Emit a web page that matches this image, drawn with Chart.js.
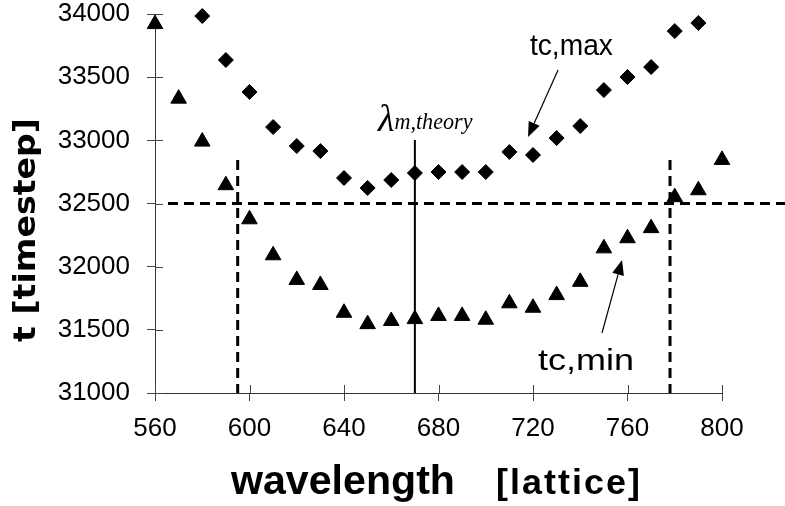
<!DOCTYPE html>
<html>
<head>
<meta charset="utf-8">
<script src="https://cdn.jsdelivr.net/npm/chart.js@4/dist/chart.umd.min.js"></script>
<style>
  html, body { margin: 0; padding: 0; background: #fff; }
  #wrap { width: 785px; height: 506px; }
</style>
</head>
<body>
<div id="wrap"><canvas id="chart"></canvas></div>
<script>
// wavelength [lattice]
const wavelengths = [560, 570, 580, 590, 600, 610, 620, 630, 640, 650, 660, 670, 680,
                     690, 700, 710, 720, 730, 740, 750, 760, 770, 780, 790, 800];
// t_c,max (diamonds)
const tcMax = [null, null, 33984, 33636, 33383, 33105, 32955, 32915, 32702, 32623, 32686, 32741, 32749,
               32749, 32749, 32908, 32884, 33018, 33113, 33398, 33501, 33580, 33865, 33929, null];
// t_c,min (triangles)
const tcMin = [33920, 33330, 32990, 32645, 32375, 32090, 31895, 31855, 31635, 31545, 31570, 31585, 31610,
               31610, 31580, 31710, 31675, 31775, 31880, 32145, 32225, 32305, 32550, 32605, 32845];

const xTicks = [560, 600, 640, 680, 720, 760, 800];
const yTicks = [31000, 31500, 32000, 32500, 33000, 33500, 34000];

const thresholdT = 32500;       // dashed horizontal
const cutoffs = [595, 778];     // dashed verticals
const lambdaTheory = 670;       // solid vertical

const tickFont = { family: '"Liberation Sans", Arial, sans-serif', size: 26 };

function toPoints(values) {
    return wavelengths.map((w, i) => values[i] == null ? null : { x: w, y: values[i] })
                      .filter(p => p !== null);
}

// draw text stretched/squeezed horizontally to a given width
function fitText(ctx, text, x, y, width) {
    const w = ctx.measureText(text).width;
    ctx.save();
    ctx.translate(x, y);
    ctx.scale(width / w, 1);
    ctx.fillText(text, 0, 0);
    ctx.restore();
}

function arrow(ctx, x1, y1, x2, y2) {
    const ang = Math.atan2(y2 - y1, x2 - x1);
    const len = 15, half = 6;
    const bx = x2 - Math.cos(ang) * len, by = y2 - Math.sin(ang) * len;
    ctx.lineWidth = 1.2;
    ctx.beginPath();
    ctx.moveTo(x1, y1);
    ctx.lineTo(bx, by);
    ctx.stroke();
    ctx.beginPath();
    ctx.moveTo(x2, y2);
    ctx.lineTo(bx - Math.sin(ang) * half, by + Math.cos(ang) * half);
    ctx.lineTo(bx + Math.sin(ang) * half, by - Math.cos(ang) * half);
    ctx.closePath();
    ctx.fill();
}

const guideLines = {
    id: 'guideLines',
    beforeDatasetsDraw(chart) {
        const { ctx, scales: { x, y } } = chart;
        ctx.save();

        // inner halves of the tick marks
        ctx.lineWidth = 1;
        ctx.strokeStyle = '#444';
        yTicks.forEach(v => {
            const py = Math.round(y.getPixelForValue(v)) + 0.5;
            ctx.beginPath(); ctx.moveTo(x.left, py); ctx.lineTo(x.left + 8, py); ctx.stroke();
        });
        xTicks.forEach(v => {
            const px = Math.round(x.getPixelForValue(v)) + 0.5;
            ctx.beginPath(); ctx.moveTo(px, y.bottom); ctx.lineTo(px, y.bottom - 8); ctx.stroke();
        });

        ctx.strokeStyle = '#000';
        ctx.lineWidth = 3;
        ctx.setLineDash([10, 6]);
        const hy = y.getPixelForValue(thresholdT);
        ctx.beginPath();
        ctx.moveTo(x.getPixelForValue(565.5), hy);
        ctx.lineTo(chart.width, hy);
        ctx.stroke();
        cutoffs.forEach(w => {
            const px = x.getPixelForValue(w);
            ctx.beginPath();
            ctx.moveTo(px, y.getPixelForValue(32844));
            ctx.lineTo(px, y.bottom);
            ctx.stroke();
        });
        ctx.setLineDash([]);
        ctx.lineWidth = 2;
        const lx = x.getPixelForValue(lambdaTheory);
        ctx.beginPath();
        ctx.moveTo(lx, y.getPixelForValue(33003));
        ctx.lineTo(lx, y.bottom);
        ctx.stroke();
        ctx.restore();
    },
    afterDraw(chart) {
        const { ctx, scales: { x, y } } = chart;
        ctx.save();
        ctx.fillStyle = '#000';
        ctx.strokeStyle = '#000';
        ctx.textBaseline = 'alphabetic';
        ctx.textAlign = 'left';

        // axis titles
        ctx.font = 'bold 41px "Liberation Sans", Arial, sans-serif';
        fitText(ctx, 'wavelength', 231, 494, 224);
        ctx.font = 'bold 35px "Liberation Sans", Arial, sans-serif';
        ctx.letterSpacing = '2px';
        fitText(ctx, '[lattice]', 496, 494, 146);
        ctx.letterSpacing = '0px';

        ctx.save();
        ctx.translate(35, 342);
        ctx.rotate(-Math.PI / 2);
        ctx.font = 'bold 31px "DejaVu Sans", sans-serif';
        fitText(ctx, 't [timestep]', 0, 0, 224);
        ctx.restore();

        // lambda_m,theory
        const lamX = x.getPixelForValue(654.4), lamY = y.getPixelForValue(33074);
        ctx.font = 'italic 38px "Liberation Serif", "Times New Roman", serif';
        ctx.fillText('λ', lamX, lamY);
        const lw = ctx.measureText('λ').width;
        ctx.font = 'italic 23px "Liberation Serif", "Times New Roman", serif';
        fitText(ctx, 'm,theory', lamX + lw, lamY - 2, 78);

        // curve labels
        ctx.font = '30px "Liberation Sans", Arial, sans-serif';
        fitText(ctx, 'tc,max', x.getPixelForValue(718.7), y.getPixelForValue(33675), 83);
        fitText(ctx, 'tc,min', x.getPixelForValue(722.1), y.getPixelForValue(31182), 96);

        arrow(ctx, x.getPixelForValue(730.6), y.getPixelForValue(33557),
                   x.getPixelForValue(717.9), y.getPixelForValue(33026));
        arrow(ctx, x.getPixelForValue(749.2), y.getPixelForValue(31475),
                   x.getPixelForValue(757.7), y.getPixelForValue(32053));
        ctx.restore();
    }
};

new Chart(document.getElementById('chart'), {
    type: 'scatter',
    data: {
        datasets: [
            {
                label: 'tc,max',
                data: toPoints(tcMax),
                pointStyle: 'rectRot',
                pointRadius: 7.5,
                backgroundColor: '#000',
                borderColor: '#000',
                borderWidth: 1,
                clip: false
            },
            {
                label: 'tc,min',
                data: toPoints(tcMin),
                pointStyle: 'triangle',
                pointRadius: 9,
                backgroundColor: '#000',
                borderColor: '#000',
                borderWidth: 1,
                clip: false
            }
        ]
    },
    options: {
        responsive: true,
        maintainAspectRatio: false,
        animation: false,
        devicePixelRatio: 1,
        layout: { padding: { top: 14, right: 63, bottom: 0, left: 0 } },
        plugins: {
            legend: { display: false },
            tooltip: { enabled: false }
        },
        scales: {
            x: {
                type: 'linear',
                min: 560,
                max: 800,
                afterBuildTicks: s => { s.ticks = xTicks.map(v => ({ value: v })); },
                afterFit: s => { s.height = 113; s.paddingLeft = 0; s.paddingRight = 0; },
                grid: { drawOnChartArea: false, tickLength: 8, color: '#444' },
                border: { color: '#333', width: 1 },
                ticks: {
                    color: '#000',
                    padding: 12,
                    maxRotation: 0,
                    callback: v => String(v),
                    font: tickFont
                }
            },
            y: {
                min: 31000,
                max: 34000,
                afterBuildTicks: s => { s.ticks = yTicks.map(v => ({ value: v })); },
                afterFit: s => { s.width = 155; s.paddingTop = 0; s.paddingBottom = 0; },
                grid: { drawOnChartArea: false, tickLength: 8, color: '#444' },
                border: { color: '#333', width: 1 },
                ticks: {
                    color: '#000',
                    padding: 17,
                    callback: v => String(v),
                    font: tickFont
                }
            }
        }
    },
    plugins: [guideLines]
});
</script>
</body>
</html>
